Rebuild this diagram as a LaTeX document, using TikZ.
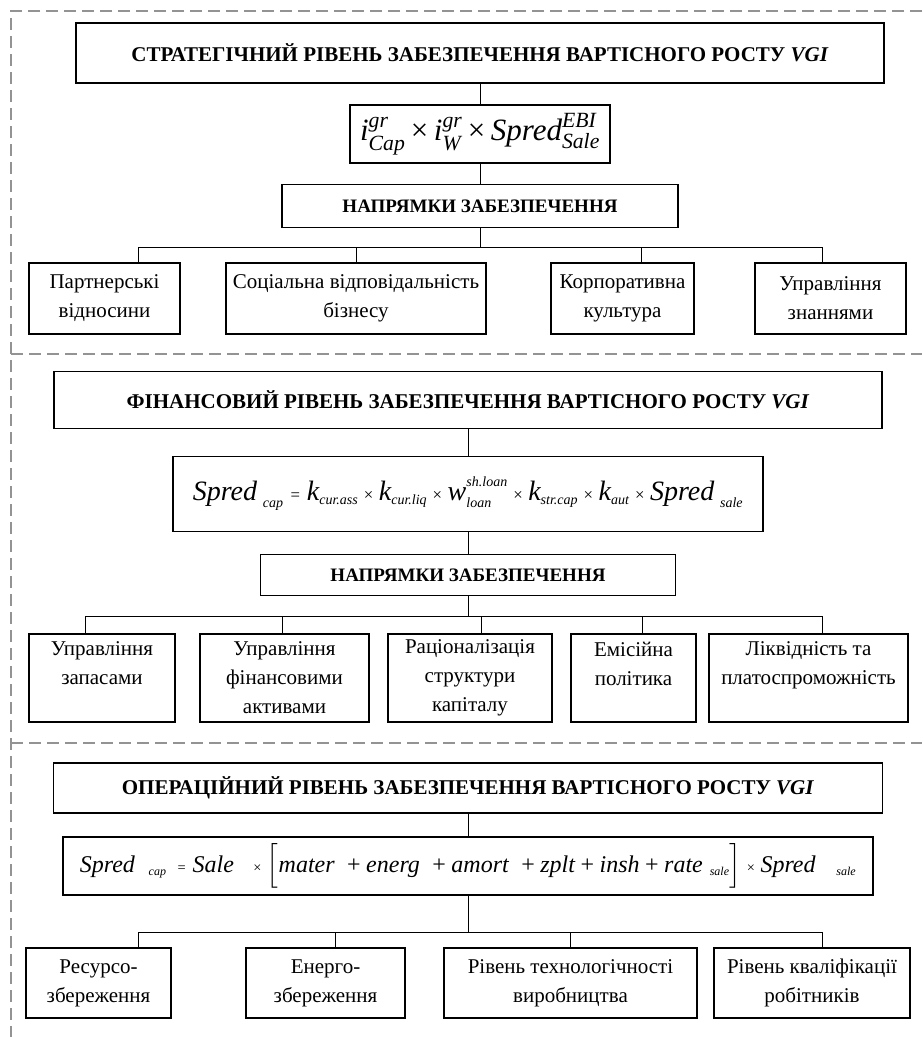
\documentclass[tikz,border=0pt]{standalone}
\usepackage{fontspec}
\setmainfont{Liberation Serif}
\usepackage{amsmath}
\usepackage{tikz}

\newcommand{\vi}[1]{\textit{#1}}
\newcommand{\tms}{\mathbin{\text{×}}}
\newcommand{\stms}{\mathbin{\text{\scalebox{.6}{×}}}}
\newcommand{\pls}{\mathbin{\text{+}}}
\newcommand{\seq}{\mathrel{\text{\scalebox{.6}{=}}}}

\begin{document}
\begin{tikzpicture}[x=1pt,y=-1pt,
  frameline/.style={draw=gray!85, line width=2pt, dash pattern=on 12pt off 6pt},
  box/.style={draw, line width=1.4pt, inner sep=0pt, align=center},
  levelbox/.style={box, font=\fontsize{21}{26}\selectfont\bfseries},
  dirbox/.style={box, font=\fontsize{19}{24}\selectfont\bfseries},
  itembox/.style={box, font=\fontsize{21}{29}\selectfont},
  link/.style={line width=1pt}]
\useasboundingbox (0,0) rectangle (922,1037);

    % Dashed frame and level borders
    \draw[frameline] (922,11) -- (11,11) -- (11,1037);
    \draw[frameline] (11,354) -- (922,354);
    \draw[frameline] (11,743) -- (922,743);

    % Strategic level
    \node[levelbox, minimum width=808, minimum height=60] (strat) at (480,53)
      {СТРАТЕГІЧНИЙ РІВЕНЬ ЗАБЕЗПЕЧЕННЯ ВАРТІСНОГО РОСТУ \textit{VGI}};
    \node[box, minimum width=260, minimum height=58] (stratf) at (480,134)
      {\fontsize{31}{36}\selectfont
       $\vi{i}^{\vi{gr}}_{\vi{Cap}}\tms\vi{i}^{\vi{gr}}_{\vi{W}}\tms\vi{Spred}^{\vi{EBI}}_{\vi{Sale}}$};
    \node[dirbox, minimum width=396, minimum height=43] (stratd) at (480,206) {НАПРЯМКИ ЗАБЕЗПЕЧЕННЯ};
    \node[itembox, minimum width=151, minimum height=71] (s1) at (104.5,298.5) {Партнерські\\відносини};
    \node[itembox, minimum width=260, minimum height=71] (s2) at (356,298.5) {Соціальна відповідальність\\бізнесу};
    \node[itembox, minimum width=143, minimum height=71] (s3) at (622.5,298.5) {Корпоративна\\культура};
    \node[itembox, minimum width=151, minimum height=71] (s4) at (830.5,298.5) {Управління\\знаннями};
    \coordinate (sbus) at (480,247);
    \draw[link] (strat) -- (stratf);
    \draw[link] (stratf) -- (stratd);
    \draw[link] (stratd) -- (sbus);
    \draw[link] (sbus) -| ([xshift=33.5]s1.north);
    \draw[link] (sbus) -| (s2.north);
    \draw[link] (sbus) -| ([xshift=18.5]s3.north);
    \draw[link] (sbus) -| ([xshift=-8.5]s4.north);

    % Financial level
    \node[levelbox, minimum width=828, minimum height=57] (fin) at (468,400)
      {ФІНАНСОВИЙ РІВЕНЬ ЗАБЕЗПЕЧЕННЯ ВАРТІСНОГО РОСТУ \textit{VGI}};
    \node[box, minimum width=590, minimum height=75] (finf) at (468,494)
      {\fontsize{28}{34}\selectfont
       $\vi{Spred}_{\;\scriptscriptstyle\vi{cap}}\seq\vi{k}_{\scriptscriptstyle\vi{cur.ass}}\stms
        \vi{k}_{\scriptscriptstyle\vi{cur.liq}}\stms
        \vi{w}^{\raisebox{5pt}{$\scriptscriptstyle\vi{sh.loan}$}}_{\scriptscriptstyle\vi{loan}}\stms
        \vi{k}_{\scriptscriptstyle\vi{str.cap}}\stms\vi{k}_{\scriptscriptstyle\vi{aut}}\stms
        \vi{Spred}_{\;\scriptscriptstyle\vi{sale}}$};
    \node[dirbox, minimum width=415, minimum height=41] (find) at (468,575) {НАПРЯМКИ ЗАБЕЗПЕЧЕННЯ};
    \node[itembox, minimum width=146, minimum height=88] (f1) at (102,678) {Управління\\запасами\\~};
    \node[itembox, minimum width=169, minimum height=88] (f2) at (284.5,678) {Управління\\фінансовими\\активами};
    \node[itembox, minimum width=164, minimum height=88] (f3) at (470,678) {Раціоналізація\\структури\\капіталу};
    \node[itembox, minimum width=125, minimum height=88] (f4) at (633.5,678) {Емісійна\\політика\\~};
    \node[itembox, minimum width=199, minimum height=88] (f5) at (808.5,678) {Ліквідність та\\платоспроможність\\~};
    \coordinate (fbus) at (468,616);
    \draw[link] (fin) -- (finf);
    \draw[link] (finf) -- (find);
    \draw[link] (find) -- (fbus);
    \draw[link] (fbus) -| ([xshift=-17]f1.north);
    \draw[link] (fbus) -| ([xshift=-2.5]f2.north);
    \draw[link] (fbus) -| ([xshift=11]f3.north);
    \draw[link] (fbus) -| ([xshift=8.5]f4.north);
    \draw[link] (fbus) -| ([xshift=13.5]f5.north);

    % Operational level
    \node[levelbox, minimum width=829, minimum height=50] (oper) at (468,788)
      {ОПЕРАЦІЙНИЙ РІВЕНЬ ЗАБЕЗПЕЧЕННЯ ВАРТІСНОГО РОСТУ \textit{VGI}};
    \node[box, minimum width=810, minimum height=58] (operf) at (468,866)
      {\fontsize{24}{30}\selectfont
       $\vi{Spred}\;\;{}_{\scriptscriptstyle\vi{cap}}\,\seq\vi{Sale}\;\;\stms\Bigl[\vi{mater}\;\pls\vi{energ}\;\pls
        \vi{amort}\;\pls\vi{zplt}\pls\vi{insh}\pls\vi{rate}\;{}_{\scriptscriptstyle\vi{sale}}\Bigr]\stms
        \vi{Spred}\;\;\;{}_{\scriptscriptstyle\vi{sale}}$};
    \node[itembox, minimum width=145, minimum height=70] (o1) at (98.5,983) {Ресурсо-\\збереження};
    \node[itembox, minimum width=159, minimum height=70] (o2) at (325.5,983) {Енерго-\\збереження};
    \node[itembox, minimum width=253, minimum height=70] (o3) at (570.5,983) {Рівень технологічності\\виробництва};
    \node[itembox, minimum width=196, minimum height=70] (o4) at (812,983) {Рівень кваліфікації\\робітників};
    \coordinate (obus) at (468,932);
    \draw[link] (oper) -- (operf);
    \draw[link] (operf) -- (obus);
    \draw[link] (obus) -| ([xshift=39.5]o1.north);
    \draw[link] (obus) -| ([xshift=9.5]o2.north);
    \draw[link] (obus) -| (o3.north);
    \draw[link] (obus) -| ([xshift=10]o4.north);

\end{tikzpicture}
\end{document}
